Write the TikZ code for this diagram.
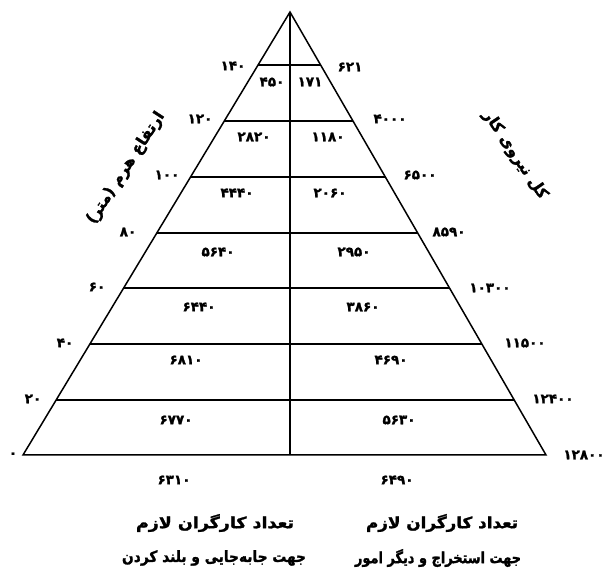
\documentclass[tikz,border=0pt]{standalone}
\usepackage{fontspec}
\newfontfamily\fa[Script=Arabic, BoldFeatures={FakeBold=1.6}]{DejaVu Sans}
\TeXXeTstate=1
\newcommand{\fitw}[2]{\resizebox{#1}{\height}{#2}}
\begin{document}
\begin{tikzpicture}[x=1pt,y=-1pt,
  edge/.style={line width=1.5pt, line join=miter},
  rung/.style={line width=1.4pt},
  num/.style={font=\fa\bfseries\fontsize{13.5}{13.5}\selectfont, inner sep=0pt},
  lab/.style={font=\fa\bfseries\fontsize{15.5}{15.5}\selectfont, inner sep=0pt}]
\useasboundingbox (0,0) rectangle (614,577);
\coordinate (A) at (290,12);
\coordinate (BL) at (23,455);
\coordinate (BR) at (546,455);
\coordinate (BM) at (290,455);
% pyramid outline
\draw[edge] (BL) -- (A) -- (BR) -- cycle;
\draw[rung] (A) -- (BM);
% rungs
\foreach \t [count=\i] in {0.1196,0.2460,0.3725,0.4989,0.6230,0.7494,0.8758}{
  \path (A) -- (BL) coordinate[pos=\t] (l\i);
  \path (A) -- (BR) coordinate[pos=\t] (r\i);
  \draw[rung] (l\i) -- (r\i);
}
% left height labels
\node[num] (h140) at (233,66) {۱۴۰};
\node[num] (h120) at (200,119) {۱۲۰};
\node[num] (h100) at (167,175) {۱۰۰};
\node[num] (h80)  at (128,232) {۸۰};
\node[num] (h60)  at (97,287) {۶۰};
\node[num] (h40)  at (65,343) {۴۰};
\node[num] (h20)  at (33,399) {۲۰};
\node[num] (h0)   at (13,455) {۰};
% right total labels
\node[num] (t1) at (350,67) {۶۲۱};
\node[num] (t2) at (390,119) {۴۰۰۰};
\node[num] (t3) at (420,175) {۶۵۰۰};
\node[num] (t4) at (449,232) {۸۵۹۰};
\node[num] (t5) at (490,288) {۱۰۳۰۰};
\node[num] (t6) at (525,343) {۱۱۵۰۰};
\node[num] (t7) at (553,399) {۱۲۴۰۰};
\node[num] (t8) at (584,455) {۱۲۸۰۰};
% cell values, left
\node[num] (a1) at (272,82) {۴۵۰};
\node[num] (a2) at (254,137) {۲۸۲۰};
\node[num] (a3) at (237,193) {۴۴۴۰};
\node[num] (a4) at (218,252) {۵۶۴۰};
\node[num] (a5) at (199,307) {۶۴۴۰};
\node[num] (a6) at (186,360) {۶۸۱۰};
\node[num] (a7) at (176,420) {۶۷۷۰};
% cell values, right
\node[num] (b1) at (310,82) {۱۷۱};
\node[num] (b2) at (328,137) {۱۱۸۰};
\node[num] (b3) at (330,193) {۲۰۶۰};
\node[num] (b4) at (354,252) {۲۹۵۰};
\node[num] (b5) at (363,307) {۳۸۶۰};
\node[num] (b6) at (391,360) {۴۶۹۰};
\node[num] (b7) at (399,420) {۵۶۳۰};
% bottom sums
\node[num] (s1) at (174,480) {۶۳۱۰};
\node[num] (s2) at (397,480) {۶۴۹۰};
% axis titles
\node[lab, rotate=57] (ylab) at (126,168) {\beginR ارتفاع هرم (متر)\endR};
\node[lab, rotate=-56] (xlab) at (515,155) {\beginR کل نیروی کار\endR};
% captions
\node[lab] (c1) at (215,523) {\fitw{158pt}{\beginR تعداد کارگران لازم\endR}};
\node[lab] (c2) at (214,558) {\fitw{184pt}{\beginR جهت جابه‌جایی و بلند کردن\endR}};
\node[lab] (c3) at (442,523) {\fitw{152pt}{\beginR تعداد کارگران لازم\endR}};
\node[lab] (c4) at (438,558) {\fitw{166pt}{\beginR جهت استخراج و دیگر امور\endR}};
\end{tikzpicture}
\end{document}
